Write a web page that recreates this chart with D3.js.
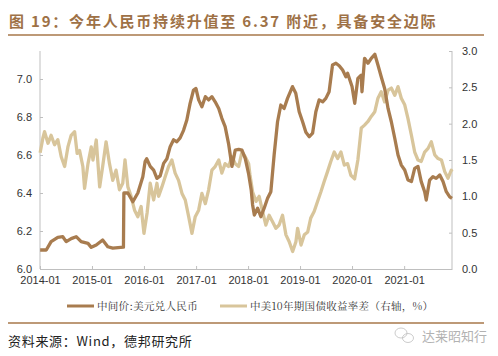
<!DOCTYPE html>
<html><head><meta charset="utf-8">
<script src="https://cdn.jsdelivr.net/npm/d3@7"></script>
<style>
body{margin:0;background:#fff;}
svg{display:block;}
</style></head>
<body>
<svg id="c" width="498" height="356"></svg>
<script>
// USD/CNY central parity (left axis)
const cnyDates = ["2014-01-02","2014-01-10","2014-02-14","2014-03-20","2014-05-06","2014-06-10","2014-07-04","2014-08-08","2014-09-12","2014-10-17","2014-12-04","2014-12-27","2015-01-31","2015-03-17","2015-04-22","2015-05-27","2015-08-10","2015-08-13","2015-09-10","2015-10-15","2015-11-19","2015-12-24","2016-01-09","2016-01-20","2016-02-14","2016-03-09","2016-04-01","2016-04-24","2016-05-18","2016-06-10","2016-07-03","2016-07-27","2016-08-19","2016-09-11","2016-10-05","2016-10-28","2016-11-20","2016-12-14","2016-12-31","2017-01-19","2017-02-11","2017-03-07","2017-03-30","2017-04-22","2017-05-15","2017-06-09","2017-07-01","2017-07-24","2017-08-17","2017-09-10","2017-10-03","2017-10-27","2017-11-19","2017-12-12","2018-01-05","2018-01-23","2018-02-02","2018-02-14","2018-03-09","2018-04-01","2018-04-24","2018-05-18","2018-06-10","2018-07-03","2018-07-27","2018-08-19","2018-09-11","2018-10-05","2018-11-09","2018-12-02","2018-12-26","2019-01-19","2019-02-11","2019-03-07","2019-03-30","2019-04-22","2019-05-15","2019-06-09","2019-07-01","2019-07-24","2019-08-17","2019-09-10","2019-10-03","2019-10-27","2019-11-19","2019-12-01","2020-01-01","2020-01-20","2020-02-11","2020-03-05","2020-03-11","2020-03-29","2020-04-22","2020-05-15","2020-06-09","2020-07-01","2020-07-24","2020-08-17","2020-09-10","2020-10-03","2020-10-27","2020-11-19","2020-12-12","2021-01-05","2021-01-28","2021-02-21","2021-03-16","2021-04-08","2021-05-01","2021-05-25","2021-06-05","2021-06-29","2021-07-22","2021-08-14","2021-09-08","2021-10-01","2021-10-24","2021-11-17","2021-12-03"];
const cnyValues = [6.10,6.10,6.10,6.144,6.167,6.17,6.144,6.16,6.17,6.144,6.135,6.114,6.126,6.153,6.117,6.11,6.115,6.40,6.40,6.354,6.40,6.486,6.565,6.58,6.54,6.52,6.477,6.49,6.556,6.58,6.644,6.68,6.67,6.69,6.73,6.784,6.872,6.942,6.95,6.89,6.854,6.907,6.89,6.907,6.88,6.845,6.793,6.749,6.66,6.54,6.626,6.63,6.626,6.582,6.50,6.416,6.337,6.284,6.32,6.275,6.32,6.372,6.407,6.60,6.775,6.863,6.845,6.898,6.96,6.925,6.828,6.775,6.72,6.696,6.715,6.828,6.89,6.88,6.898,6.933,7.074,7.083,7.07,7.047,7.012,7.03,6.96,6.872,7.003,7.02,6.933,7.109,7.083,7.109,7.13,7.074,7.012,6.95,6.845,6.775,6.688,6.60,6.547,6.521,6.468,6.46,6.53,6.54,6.46,6.407,6.363,6.468,6.486,6.477,6.495,6.46,6.407,6.38,6.372];

// China-US 10Y yield spread (right axis, %)
const spreadDates = ["2014-01-02","2014-01-21","2014-02-02","2014-02-26","2014-03-20","2014-04-13","2014-05-06","2014-05-30","2014-06-23","2014-07-16","2014-08-08","2014-09-01","2014-09-19","2014-10-06","2014-10-29","2014-11-10","2014-12-04","2014-12-27","2015-01-08","2015-01-31","2015-02-24","2015-03-17","2015-04-10","2015-05-04","2015-05-27","2015-06-19","2015-07-13","2015-08-05","2015-08-21","2015-09-10","2015-10-03","2015-10-27","2015-11-19","2015-12-12","2016-01-01","2016-01-23","2016-02-14","2016-03-09","2016-04-01","2016-04-13","2016-05-06","2016-05-29","2016-06-22","2016-07-15","2016-08-07","2016-08-31","2016-09-24","2016-10-17","2016-11-10","2016-12-03","2016-12-26","2017-01-19","2017-02-11","2017-03-07","2017-03-30","2017-04-22","2017-05-15","2017-06-09","2017-07-01","2017-07-24","2017-08-17","2017-09-10","2017-10-03","2017-10-27","2017-11-19","2017-12-12","2018-01-05","2018-01-14","2018-02-02","2018-02-26","2018-03-20","2018-04-13","2018-05-06","2018-05-29","2018-06-22","2018-07-15","2018-08-07","2018-08-31","2018-09-24","2018-10-17","2018-11-10","2018-12-03","2018-12-15","2019-01-08","2019-01-31","2019-02-24","2019-03-17","2019-04-10","2019-05-04","2019-05-27","2019-06-19","2019-07-13","2019-08-05","2019-08-29","2019-09-22","2019-10-15","2019-11-08","2019-12-01","2019-12-24","2020-01-19","2020-02-11","2020-03-06","2020-03-29","2020-04-22","2020-05-15","2020-06-09","2020-07-01","2020-07-24","2020-08-17","2020-09-10","2020-10-03","2020-10-27","2020-11-19","2020-12-12","2021-01-05","2021-01-28","2021-02-21","2021-03-16","2021-04-08","2021-05-01","2021-05-25","2021-06-18","2021-07-11","2021-08-04","2021-08-27","2021-09-20","2021-10-13","2021-11-05","2021-11-28","2021-12-03"];
const spreadValues = [1.60,1.80,1.89,1.73,1.84,1.71,1.78,1.545,1.41,1.68,1.84,1.89,1.59,1.63,1.41,1.11,1.45,1.68,1.50,1.775,1.13,1.41,1.75,1.45,1.22,1.36,1.09,1.18,1.50,1.13,1.00,0.81,0.72,0.86,0.49,0.77,1.18,0.95,1.18,1.00,1.13,1.27,1.41,1.50,1.32,1.22,1.04,0.95,0.72,0.49,0.72,0.81,1.04,0.90,1.09,1.36,1.41,1.50,1.32,1.45,1.41,1.545,1.45,1.41,1.61,1.545,1.45,1.30,1.06,0.93,1.00,0.79,0.605,0.74,0.65,0.56,0.605,0.74,0.47,0.376,0.24,0.376,0.56,0.33,0.47,0.51,0.70,0.79,0.93,1.06,1.20,1.34,1.48,1.61,1.52,1.61,1.43,1.45,1.29,1.24,1.50,1.94,1.98,2.03,2.10,2.165,2.35,2.44,2.30,2.46,2.49,2.39,2.51,2.35,2.26,2.07,1.84,1.61,1.50,1.48,1.61,1.66,1.75,1.57,1.52,1.50,1.34,1.25,1.36,1.34];

const xTickLabels = ["2014-01","2015-01","2016-01","2017-01","2018-01","2019-01","2020-01","2021-01"];
const leftTicks = [6.0,6.2,6.4,6.6,6.8,7.0];
const rightTicks = [0.0,0.5,1.0,1.5,2.0,2.5,3.0];
const legendLabels = ["中间价:美元兑人民币","中美10年期国债收益率差（右轴，%）"];
const titleText = "图 19：今年人民币持续升值至 6.37 附近，具备安全边际";
const sourceText = "资料来源：Wind，德邦研究所";
const watermarkText = "达莱昭知行";

const C_DARK = "#A87C4F", C_LIGHT = "#D8C59B", C_BROWN = "#A7774A";
const parse = d3.timeParse("%Y-%m-%d");
const svg = d3.select("#c");
const L = 40, R = 452, T = 51, B = 269;

const x = d3.scaleTime().domain([parse("2014-01-01"), parse("2021-12-03")]).range([L, R]);
const yL = d3.scaleLinear().domain([6.0, 7.1474]).range([B, T]);
const yR = d3.scaleLinear().domain([0, 3]).range([B, T]);

// Title
svg.append("text").attr("x", 9).attr("y", 27)
  .attr("font-family", "'Noto Sans CJK SC', sans-serif").attr("font-weight", "bold")
  .attr("font-size", 15).attr("letter-spacing", 1.8).attr("fill", "#9E7146").text(titleText);
svg.append("line").attr("x1", 8).attr("x2", 484).attr("y1", 35).attr("y2", 35)
  .attr("stroke", C_BROWN).attr("stroke-width", 1.5);

const axisFont = "'Liberation Sans', Arial, sans-serif";
const fmt = d3.format(".1f");

// Left axis
const gL = svg.append("g").attr("transform", `translate(${L},0)`)
  .call(d3.axisLeft(yL).tickValues(leftTicks).tickFormat(fmt).tickSizeInner(-3).tickSizeOuter(0).tickPadding(8));
// Right axis
const gR = svg.append("g").attr("transform", `translate(${R},0)`)
  .call(d3.axisRight(yR).tickValues(rightTicks).tickFormat(fmt).tickSizeInner(-3).tickSizeOuter(0).tickPadding(10));
// Bottom axis
const gB = svg.append("g").attr("transform", `translate(0,${B})`)
  .call(d3.axisBottom(x).tickValues(xTickLabels.map(s => parse(s + "-01"))).tickFormat(d3.timeFormat("%Y-%m")).tickSizeInner(-3).tickSizeOuter(0).tickPadding(7));

[gL, gR, gB].forEach(g => {
  g.select(".domain").attr("stroke", "#BFBFBF");
  g.selectAll(".tick line").attr("stroke", "#BFBFBF");
  g.selectAll(".tick text").attr("font-family", axisFont).attr("font-size", 11).attr("fill", "#333");
});
gL.select(".domain").attr("d", `M0,${T}V${B}`);
gR.select(".domain").attr("d", `M0,${T}V${B}`);

// Lines
const spread = spreadDates.map((d, i) => ({d: parse(d), v: spreadValues[i]}));
const cny = cnyDates.map((d, i) => ({d: parse(d), v: cnyValues[i]}));
svg.append("path").datum(spread)
  .attr("d", d3.line().x(p => x(p.d)).y(p => yR(p.v)))
  .attr("fill", "none").attr("stroke", C_LIGHT).attr("stroke-width", 3.3).attr("stroke-linejoin", "round");
svg.append("path").datum(cny)
  .attr("d", d3.line().x(p => x(p.d)).y(p => yL(p.v)))
  .attr("fill", "none").attr("stroke", C_DARK).attr("stroke-width", 3.3).attr("stroke-linejoin", "round");

// Legend
const legFont = "'Noto Serif CJK SC','Noto Sans CJK SC', serif";
const leg = [{x: 67, c: C_DARK, t: legendLabels[0]}, {x: 220, c: C_LIGHT, t: legendLabels[1]}];
leg.forEach(l => {
  svg.append("line").attr("x1", l.x).attr("x2", l.x + 27).attr("y1", 306).attr("y2", 306)
    .attr("stroke", l.c).attr("stroke-width", 3);
  svg.append("text").attr("x", l.x + 30).attr("y", 310).attr("font-family", legFont)
    .attr("font-size", 10.5).attr("letter-spacing", 0.3).attr("fill", "#333").text(l.t);
});

// Bottom rule & source
svg.append("line").attr("x1", 8).attr("x2", 484).attr("y1", 323).attr("y2", 323)
  .attr("stroke", C_BROWN).attr("stroke-width", 1.5);
svg.append("text").attr("x", 8).attr("y", 346)
  .attr("font-family", "'Noto Sans CJK SC', sans-serif").attr("font-size", 13).attr("letter-spacing", 0.7).attr("fill", "#222").text(sourceText);

// Watermark
const wm = svg.append("g").attr("opacity", 0.75);
wm.append("ellipse").attr("cx", 401).attr("cy", 333).attr("rx", 6).attr("ry", 5).attr("fill", "none").attr("stroke", "#aaa").attr("stroke-width", 0.8);
wm.append("ellipse").attr("cx", 408).attr("cy", 338).attr("rx", 5.5).attr("ry", 4.5).attr("fill", "none").attr("stroke", "#aaa").attr("stroke-width", 0.8);
wm.append("text").attr("x", 422).attr("y", 341).attr("font-family", "'Noto Sans CJK SC', sans-serif")
  .attr("font-size", 13).attr("fill", "#999").text(watermarkText);
</script>
</body></html>
